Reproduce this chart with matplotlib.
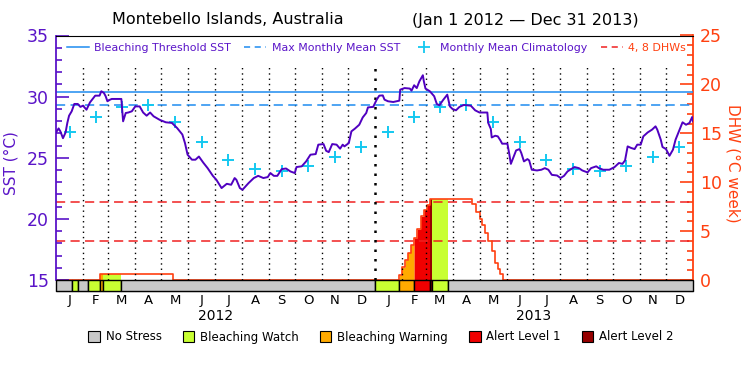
import numpy as np
import pandas as pd
import matplotlib
matplotlib.use("Agg")
import matplotlib.pyplot as plt
from matplotlib.lines import Line2D
from matplotlib.patches import Patch

# ---------------- data ----------------
# SST (deg C) sampled along the record; day 0 = Jan 1 2012
sst_day = [0, 3, 5, 8, 11, 13, 15, 18, 21, 25, 28, 31, 35, 39, 42, 45, 50, 52, 55, 57, 59, 62, 64, 75, 77,
           80, 83, 87, 91, 96, 100, 104, 108, 112, 119, 126, 133, 139, 145, 148, 151, 156, 160, 164, 169,
           174, 180, 184, 190, 196, 201, 205, 207, 211, 214, 221, 227, 232, 238, 243, 246, 250, 254, 259,
           264, 269, 274, 276, 282, 287, 292, 298, 301, 307, 310, 313, 317, 322, 326, 329, 331, 336, 339,
           343, 348, 352, 356, 358, 364, 368, 371, 375, 377, 381, 387, 394, 395, 400, 406, 408, 411, 414,
           417, 421, 422, 424, 429, 434, 437, 440, 444, 449, 452, 455, 459, 463, 468, 476, 481, 486, 495,
           496, 499, 500, 504, 507, 510, 512, 518, 520, 522, 525, 528, 532, 534, 537, 541, 543, 546, 552,
           557, 561, 565, 569, 575, 579, 583, 587, 590, 595, 600, 604, 610, 614, 620, 623, 628, 635, 641,
           646, 650, 653, 656, 660, 664, 667, 671, 674, 679, 684, 688, 690, 694, 696, 700, 704, 708, 711,
           714, 719, 723, 727, 730, 731]
sst_val = [27.07, 27.4, 27.16, 26.6, 27.07, 27.85, 28.44, 28.8, 29.4, 29.4, 29.16, 29.26, 28.93, 29.53,
           29.81, 30.08, 30.08, 30.44, 30.3, 30.03, 29.62, 29.75, 29.81, 29.81, 27.98, 28.66, 28.7, 28.8,
           29.2, 29.2, 28.7, 28.44, 28.7, 28.39, 28.1, 27.9, 27.85, 27.43, 26.9, 26.2, 25.25, 24.84, 24.84,
           25.1, 24.6, 24.15, 23.52, 23.2, 22.52, 22.87, 22.79, 23.34, 23.2, 22.52, 22.38, 22.93, 23.34,
           23.52, 23.34, 23.42, 23.75, 23.52, 23.52, 24.07, 24.12, 23.88, 23.75, 24.24, 24.3, 24.7, 25.25,
           25.3, 26.07, 26.12, 25.57, 25.46, 26.12, 26.07, 25.74, 26.07, 25.93, 26.2, 27.16, 27.38, 27.7,
           28.3, 28.66, 29.12, 29.16, 29.75, 30.08, 30.1, 29.75, 29.62, 29.56, 29.67, 30.57, 30.7, 30.66,
           30.49, 30.93, 30.7, 31.25, 31.75, 31.3, 30.66, 30.44, 30.03, 29.4, 29.29, 29.7, 30.16, 29.2,
           28.99, 28.88, 29.16, 29.32, 29.26, 28.88, 28.7, 28.7, 27.85, 27.35, 26.66, 26.8, 26.75, 26.42,
           26.15, 26.15, 25.38, 24.5, 25.05, 25.6, 25.71, 25.38, 24.7, 24.89, 24.78, 24.02, 23.96, 24.02,
           24.15, 24.02, 23.6, 23.55, 23.34, 23.52, 23.88, 24.02, 24.24, 24.15, 23.96, 23.8, 24.15, 24.3,
           24.15, 24.02, 24.02, 24.24, 24.57, 24.5, 24.78, 25.93, 25.8, 25.71, 26.07, 26.07, 26.75, 27.07,
           27.3, 27.57, 27.3, 26.48, 25.88, 25.71, 25.16, 25.66, 26.48, 27.02, 27.9, 27.7, 27.85, 28.33,
           27.98]

# Monthly mean climatology (Jan..Dec)
clim = [27.1, 28.3, 29.15, 29.35, 27.9, 26.3, 24.8, 24.1, 23.9, 24.3, 25.1, 25.9]
mmm = 29.34
threshold = 30.34
dhw_levels = [4, 8]

# Degree heating weeks (step series)
dhw_day = [0, 51, 134, 394, 396.5, 400.7, 403.4, 406.9, 411, 414.5, 418.4, 422.2, 425.3, 429,
           477.6, 481.9, 486.4, 488.7, 492.6, 496, 499.9, 503.7, 507.1, 509.4, 513.2, 731]
dhw_val = [0, 0.58, 0, 0.5, 1.3, 2.05, 2.8, 3.6, 4.3, 5.2, 6.5, 7.2, 7.7, 8.27,
           7.8, 7.0, 6.2, 5.6, 4.8, 4.0, 3.0, 1.7, 1.1, 0.6, 0, 0]

# Stress level periods: 0 none, 1 watch, 2 warning, 3 alert 1, 4 alert 2
stress_start = [0, 18, 25, 37, 51, 54, 75, 366, 394, 411, 429, 432, 450]
stress_level = [0, 1, 0, 1, 2, 1, 0, 1, 2, 3, 4, 1, 0]
stress_names = ["No Stress", "Bleaching Watch", "Bleaching Warning", "Alert Level 1", "Alert Level 2"]
stress_colors = ["#c8c8c8", "#c8ff32", "#ffaa00", "#f00000", "#960000"]

month_letters = ["J", "F", "M", "A", "M", "J", "J", "A", "S", "O", "N", "D"]
years = [2012, 2013]

# ---------------- styling ----------------
PURPLE = "#5a14c8"
ORANGE = "#ff4010"
BLUE = "#1e8cf0"
CYAN = "#14c8f0"
RED = "#f02020"

start = pd.Timestamp("2012-01-01")
month_starts = pd.date_range("2012-01-01", "2014-01-01", freq="MS")
ms_days = np.array([(d - start).days for d in month_starts])
mid_days = (ms_days[:-1] + ms_days[1:]) / 2.0
total_days = ms_days[-1]

fig = plt.figure(figsize=(7.5, 3.75), dpi=100)
L, R, T, B = 56, 693, 35.5, 291
ax = fig.add_axes([L / 750, 1 - B / 375, (R - L) / 750, (B - T) / 375])
ax2 = ax.twinx()
ax.set_zorder(ax2.get_zorder() + 1)
ax.patch.set_visible(False)

sst_bot = 15 - (B - 280) / ((280 - T) / 20.0)
ax.set_ylim(sst_bot, 35)
ax2.set_ylim((sst_bot - 15) * 1.25, 25)
ax.set_xlim(0, total_days)
ax2.set_xlim(0, total_days)

# DHW fill coloured by stress level
grid = np.arange(0, total_days + 0.25, 0.25)
idx = np.searchsorted(dhw_day, grid, side="right") - 1
dhw_grid = np.array(dhw_val)[np.clip(idx, 0, len(dhw_val) - 1)]
s_end = stress_start[1:] + [total_days]
for s0, s1, lev in zip(stress_start, s_end, stress_level):
    if lev == 0:
        continue
    m = (grid >= s0) & (grid <= s1)
    ax2.fill_between(grid[m], 0, dhw_grid[m], color=stress_colors[lev], lw=0, zorder=1)

ax2.plot(dhw_day, dhw_val, drawstyle="steps-post", color=ORANGE, lw=1.2, zorder=3)
for lv in dhw_levels:
    ax2.axhline(lv, color=RED, lw=1.1, dashes=(6, 3.5), zorder=2)

# month dotted lines
dot_top = (32.6 - 15) * 1.25
for d in ms_days[1:-1]:
    lw = 1.8 if d == 366 else 1.0
    ax2.vlines(d, 0, dot_top, colors="black", linestyles=(0, (1, 2.8)), lw=lw, zorder=4)

# threshold lines and SST
ax.axhline(threshold, color=BLUE, lw=1.1, zorder=2)
ax.axhline(mmm, color=BLUE, lw=1.1, dashes=(6, 3.5), zorder=2)
ax.plot(mid_days, clim * len(years), ls="none", marker="+", ms=9, mew=1.4, color=CYAN, zorder=3)
ax.plot(sst_day, sst_val, color="#5000c0", lw=1.4, zorder=4)

# stress bar
widths = np.diff(stress_start + [total_days])
ax.bar(stress_start, 15 - sst_bot, width=widths, bottom=sst_bot, align="edge",
       color=[stress_colors[l] for l in stress_level], edgecolor="black", lw=1.0, zorder=5,
       clip_on=False)

# spines
for s in ["left", "right", "top", "bottom"]:
    ax2.spines[s].set_visible(False)
ax.spines["right"].set_visible(False)
ax.spines["left"].set_color(PURPLE)
ax.spines["left"].set_bounds(15, 35)
ax.spines["left"].set_linewidth(1.3)
ax.spines["top"].set_color("black")
ax.spines["bottom"].set_color("black")
ax2.spines["right"].set_visible(True)
ax2.spines["right"].set_color(ORANGE)
ax2.spines["right"].set_bounds(0, 25)
ax2.spines["right"].set_linewidth(1.3)

ax.set_yticks([15, 20, 25, 30, 35])
ax.set_yticks(np.arange(15, 36, 1), minor=True)
ax.tick_params(axis="y", which="major", direction="in", length=9.5, width=1.2, color=PURPLE,
               labelcolor=PURPLE, labelsize=12.5, pad=5)
ax.tick_params(axis="y", which="minor", direction="in", length=4.5, width=1.2, color=PURPLE)
ax2.set_yticks([0, 5, 10, 15, 20, 25])
ax2.set_yticks(np.arange(0, 26, 1), minor=True)
ax2.tick_params(axis="y", which="major", direction="in", length=9.5, width=1.2, color=ORANGE,
                labelcolor=ORANGE, labelsize=12.5, pad=5)
ax2.tick_params(axis="y", which="minor", direction="in", length=4.5, width=1.2, color=ORANGE)

ax.set_xticks(mid_days)
ax.set_xticklabels(month_letters * len(years))
ax.tick_params(axis="x", length=0, labelsize=9.5, pad=2)
ax2.tick_params(axis="x", length=0, labelbottom=False)
for i, yr in enumerate(years):
    ax.text((ms_days[12 * i] + ms_days[12 * i + 12]) / 2, -0.098, str(yr),
            transform=ax.get_xaxis_transform(), ha="center", va="center", fontsize=10)

ax.set_ylabel("SST (°C)", color=PURPLE, fontsize=11, labelpad=6)
ax2.set_ylabel("DHW (°C week)", color=ORANGE, fontsize=11, rotation=270, labelpad=13)

# legend inside plot
handles = [Line2D([], [], color=BLUE, lw=1.1),
           Line2D([], [], color=BLUE, lw=1.1, dashes=(4, 3)),
           Line2D([], [], color=CYAN, ls="none", marker="+", ms=8, mew=1.3),
           Line2D([], [], color=RED, lw=1.1, dashes=(4, 3))]
labels = ["Bleaching Threshold SST", "Max Monthly Mean SST", "Monthly Mean Climatology", "4, 8 DHWs"]
leg = ax.legend(handles, labels, loc="upper center", bbox_to_anchor=(0.503, 1.0), ncol=4,
                frameon=False, fontsize=7.9, handlelength=2.0, handletextpad=0.5, columnspacing=1.2,
                borderaxespad=0.3)
for t, c in zip(leg.get_texts(), [PURPLE, PURPLE, PURPLE, ORANGE]):
    t.set_color(c)

# stress legend at bottom
ph = [Patch(facecolor=c, edgecolor="black", lw=0.8) for c in stress_colors]
fig.legend(ph, stress_names, loc="center", bbox_to_anchor=(381 / 750, 1 - 337 / 375), ncol=5,
           frameon=False, fontsize=8.5, handlelength=1.0, handleheight=1.0, handletextpad=0.5,
           columnspacing=1.75)

# title
fig.text(228 / 750, 1 - 20 / 375, "Montebello Islands, Australia", ha="center", va="center", fontsize=11.5)
fig.text(525 / 750, 1 - 20 / 375, "(Jan 1 2012 — Dec 31 2013)", ha="center", va="center", fontsize=11.5)

fig.savefig("out.png", dpi=100)
